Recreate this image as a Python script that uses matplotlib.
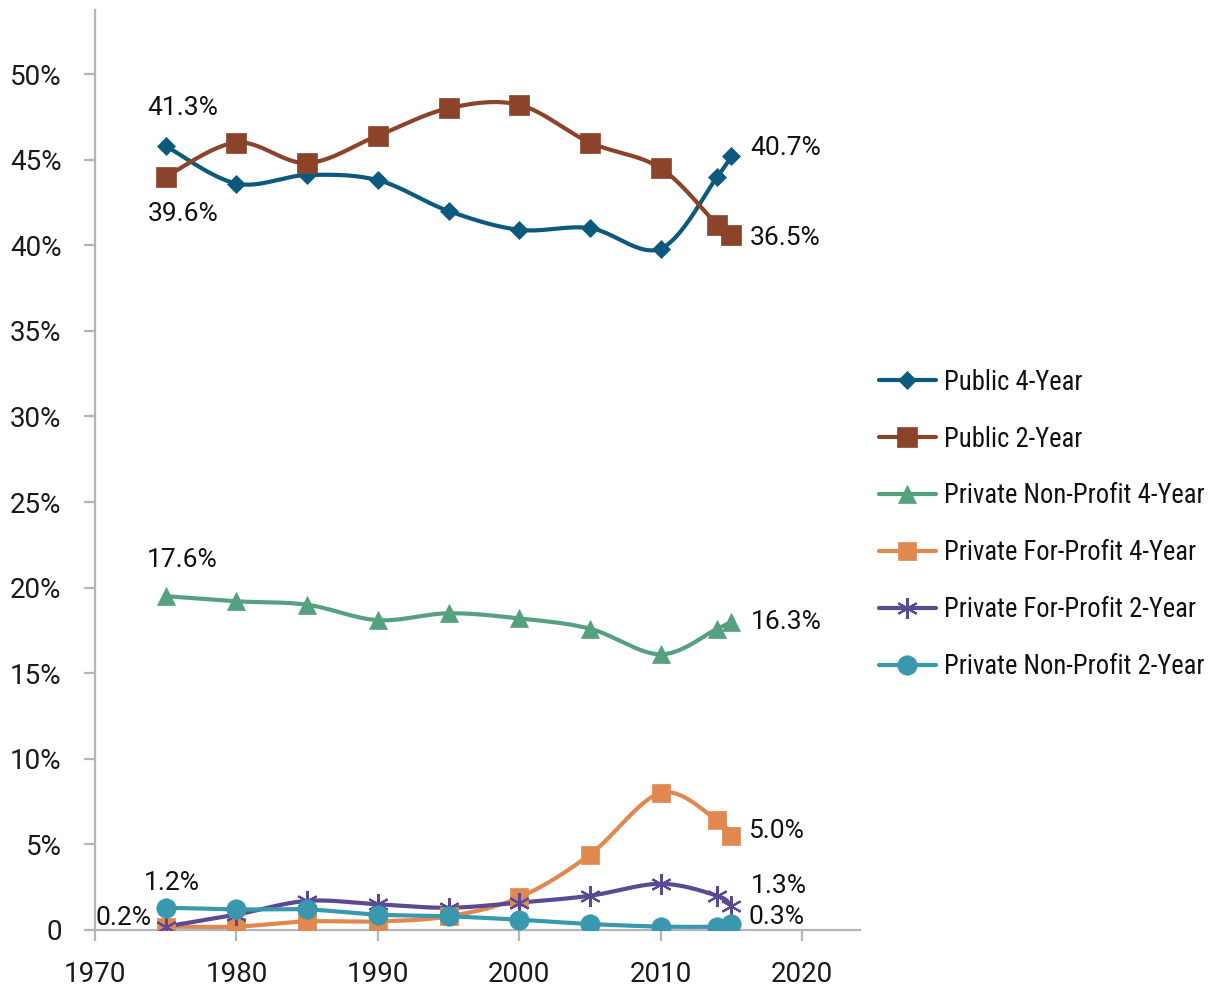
import numpy as np
import matplotlib
matplotlib.use("Agg")
import matplotlib.pyplot as plt
import matplotlib.font_manager as fm
from matplotlib.ticker import FuncFormatter
from matplotlib.lines import Line2D

available = {f.name for f in fm.fontManager.ttflist}
prefs = ['Roboto Condensed', 'Archivo Narrow', 'PT Sans Narrow', 'Fira Sans Condensed',
         'IBM Plex Sans Condensed', 'Encode Sans Condensed', 'Sofia Sans Condensed',
         'Liberation Sans Narrow']
cond = [p for p in prefs if p in available][:1] + ['DejaVu Sans']
num_font = ['Roboto', 'DejaVu Sans']
plt.rcParams['font.family'] = num_font

years = [1975, 1980, 1985, 1990, 1995, 2000, 2005, 2010, 2014, 2015]
public_4yr = [45.8, 43.6, 44.1, 43.8, 42.0, 40.9, 41.0, 39.8, 44.0, 45.2]
public_2yr = [44.0, 46.0, 44.8, 46.4, 48.0, 48.2, 46.0, 44.5, 41.2, 40.6]
private_np_4yr = [19.5, 19.2, 19.0, 18.1, 18.5, 18.2, 17.6, 16.1, 17.6, 18.0]
private_fp_4yr = [0.2, 0.2, 0.5, 0.5, 0.8, 1.9, 4.4, 8.0, 6.4, 5.5]
private_fp_2yr = [0.2, 0.9, 1.7, 1.5, 1.3, 1.6, 2.0, 2.7, 2.0, 1.4]
private_np_2yr = [1.3, 1.2, 1.2, 0.9, 0.8, 0.6, 0.35, 0.2, 0.2, 0.35]

series_names = ["Public 4-Year", "Public 2-Year", "Private Non-Profit 4-Year",
                "Private For-Profit 4-Year", "Private For-Profit 2-Year",
                "Private Non-Profit 2-Year"]
series_values = [public_4yr, public_2yr, private_np_4yr, private_fp_4yr,
                 private_fp_2yr, private_np_2yr]
colors = ['#0b5a7e', '#8b432a', '#55a07f', '#e0884f', '#5b4a93', '#3a98ae']
markers = ['D', 's', '^', 's', (6, 2, 0), 'o']
msizes = [9, 14, 13, 13, 15, 14]

# annotation labels (text, x, y in %)
labels = [("41.3%", 1976.2, 48.0, 'center'), ("39.6%", 1976.2, 41.8, 'center'),
          ("40.7%", 2016.35, 45.7, 'left'), ("36.5%", 2016.3, 40.4, 'left'),
          ("17.6%", 1976.2, 21.6, 'center'), ("16.3%", 2016.35, 18.0, 'left'),
          ("5.0%", 2016.2, 5.8, 'left'), ("1.3%", 2016.35, 2.55, 'left'),
          ("0.3%", 2016.2, 0.74, 'left'), ("1.2%", 1975.4, 2.75, 'center'),
          ("0.2%", 1974.0, 0.7, 'right')]


def smooth(x, y, n=30):
    P = np.column_stack([x, y]).astype(float)
    pts = []
    for i in range(len(P) - 1):
        p0 = P[i - 1] if i > 0 else P[i]
        p1 = P[i]
        p2 = P[i + 1]
        p3 = P[i + 2] if i + 2 < len(P) else P[i + 1]
        c1 = p1 + (p2 - p0) / 6.0
        c2 = p2 - (p3 - p1) / 6.0
        t = np.linspace(0, 1, n)[:, None]
        b = ((1 - t) ** 3) * p1 + 3 * ((1 - t) ** 2) * t * c1 + 3 * (1 - t) * t ** 2 * c2 + t ** 3 * p2
        pts.append(b if i == 0 else b[1:])
    B = np.vstack(pts)
    return B[:, 0], B[:, 1]


fig = plt.figure(figsize=(12.13, 9.91), dpi=100)
ax = fig.add_axes([95 / 1213, 61 / 991, 765 / 1213, 920 / 991])

handles = []
for name, vals, c, m, ms in zip(series_names, series_values, colors, markers, msizes):
    sx, sy = smooth(years, vals)
    ax.plot(sx, sy, color=c, lw=3, solid_capstyle='round', zorder=2)
    mew = 1.5 if m == (6, 2, 0) else 0.5
    ax.plot(years, vals, linestyle='none', marker=m, markersize=ms, color=c,
            markeredgecolor=c, markeredgewidth=mew, zorder=3)
    handles.append(Line2D([0], [0], color=c, lw=3, marker=m, markersize=ms,
                          markeredgecolor=c, solid_capstyle='round',
                          markeredgewidth=mew))

for txt, x, y, ha in labels:
    ax.text(x, y, txt, ha=ha, va='center', fontsize=19, color='#111111')

ax.set_xlim(1970, 2024.1)
ax.set_ylim(0, 53.74)
ax.set_xticks([1970, 1980, 1990, 2000, 2010, 2020])
ax.set_yticks(np.arange(0, 51, 5))
ax.yaxis.set_major_formatter(FuncFormatter(lambda v, p: "0" if v == 0 else f"{v:.0f}%"))

for s in ['top', 'right']:
    ax.spines[s].set_visible(False)
gray = '#b4b4bc'
for s in ['left', 'bottom']:
    ax.spines[s].set_color(gray)
    ax.spines[s].set_linewidth(1.6)
ax.tick_params(axis='both', colors=gray, width=1.6, length=8, labelsize=20,
               labelcolor='#1a1a1a')
ax.tick_params(axis='y', pad=16)
ax.tick_params(axis='x', pad=14)

leg = fig.legend(handles, series_names, loc='upper left',
                 bbox_to_anchor=(868 / 1213, (991 - 358) / 991), frameon=False,
                 prop={'family': cond, 'size': 19.2},
                 handlelength=2.15, handletextpad=0.3, labelspacing=1.12,
                 borderaxespad=0)
for t in leg.get_texts():
    t.set_color('#111111')

fig.savefig('out.png', dpi=100)
